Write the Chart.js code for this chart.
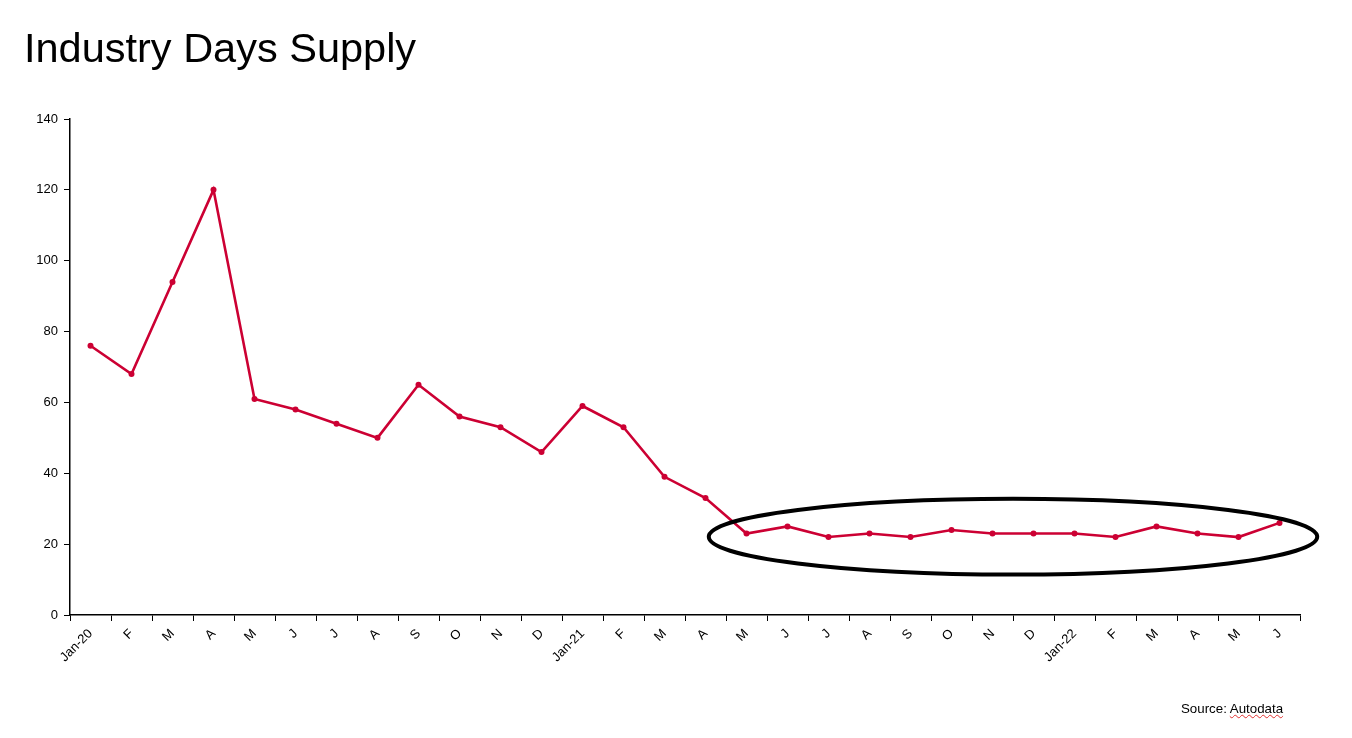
<!DOCTYPE html>
<html>
<head>
<meta charset="utf-8">
<script src="https://cdn.jsdelivr.net/npm/chart.js@4"></script>
<style>
  html, body { margin: 0; padding: 0; background: #fff; }
  #wrap { position: relative; width: 1352px; height: 738px; }
  #title { position: absolute; left: 24px; top: 24px; font-family: "Liberation Sans", Arial, sans-serif; font-size: 41.5px; color: #000; }
  #source { position: absolute; left: 1181px; top: 701px; font-family: "Liberation Sans", Arial, sans-serif; font-size: 13.3px; color: #000; }
  #source span { text-decoration: underline wavy #e03030; text-decoration-thickness: 1px; }
  canvas { position: absolute; left: 0; top: 0; }
</style>
</head>
<body>
<div id="wrap">
  <canvas id="c" width="1352" height="738"></canvas>
  <div id="title">Industry Days Supply</div>
  <div id="source">Source: <span>Autodata</span></div>
</div>
<script>
const categories = ["Jan-20","F","M","A","M","J","J","A","S","O","N","D",
                    "Jan-21","F","M","A","M","J","J","A","S","O","N","D",
                    "Jan-22","F","M","A","M","J"];
const daysSupply = [76,68,94,120,61,58,54,50,65,56,53,46,
                    59,53,39,33,23,25,22,23,22,24,23,23,
                    23,22,25,23,22,26];
const yTicks = [0,20,40,60,80,100,120,140];

const ellipsePlugin = {
  id: 'ellipse',
  afterDatasetsDraw(chart) {
    const x = chart.scales.x, y = chart.scales.y;
    const step = x.getPixelForValue(1) - x.getPixelForValue(0);
    const cx = (x.getPixelForValue(22) + x.getPixelForValue(23)) / 2;
    const cy = y.getPixelForValue(22.1);
    const rx = step * 7.42;
    const ry = y.getPixelForValue(11.4) - y.getPixelForValue(22.1);
    const ctx = chart.ctx;
    ctx.save();
    ctx.beginPath();
    ctx.ellipse(cx, cy, rx, ry, 0, 0, Math.PI * 2);
    ctx.lineWidth = 4;
    ctx.strokeStyle = '#000';
    ctx.stroke();
    ctx.restore();
  }
};

new Chart(document.getElementById('c'), {
  type: 'line',
  data: {
    labels: categories,
    datasets: [{
      data: daysSupply,
      borderColor: '#cc0033',
      backgroundColor: '#cc0033',
      borderWidth: 2.6,
      pointRadius: 3,
      pointBorderWidth: 0,
      tension: 0
    }]
  },
  options: {
    responsive: false,
    animation: false,
    layout: { padding: { top: 119, right: 52, left: 0, bottom: 0 } },
    plugins: { legend: { display: false }, tooltip: { enabled: false } },
    scales: {
      x: {
        offset: true,
        grid: { offset: true, drawOnChartArea: false, drawTicks: true, tickLength: 6, color: '#000' },
        border: { color: '#000', width: 1.5 },
        ticks: {
          color: '#000', autoSkip: false, maxRotation: 45, minRotation: 45,
          font: { family: '"Liberation Sans", Arial, sans-serif', size: 13 }, padding: 5
        },
        afterFit(scale) { scale.height = 738 - 615; }
      },
      y: {
        min: 0, max: 140,
        afterBuildTicks(scale) { scale.ticks = yTicks.map(v => ({ value: v })); },
        grid: { drawOnChartArea: false, drawTicks: true, tickLength: 6, color: '#000' },
        border: { color: '#000', width: 1.5 },
        ticks: {
          color: '#000', padding: 6,
          font: { family: '"Liberation Sans", Arial, sans-serif', size: 13 }
        },
        afterFit(scale) { scale.width = 70; }
      }
    }
  },
  plugins: [ellipsePlugin]
});
</script>
</body>
</html>
